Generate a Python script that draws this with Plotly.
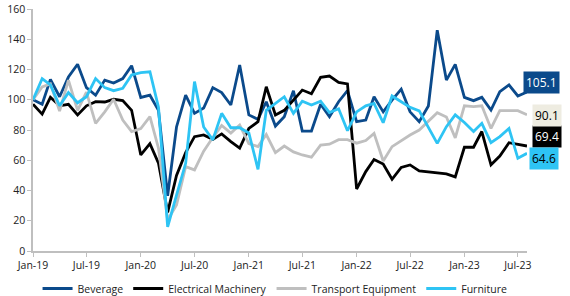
import pandas as pd
import plotly.graph_objects as go

months = pd.date_range("2019-01-01", "2023-08-01", freq="MS")

beverage = [100, 97, 113.5, 102, 115, 123.5, 108, 103, 113, 111, 114, 122.5,
            101.5, 103, 93, 36.5, 82, 103, 91, 94.5, 108, 104.7, 96.5, 123,
            90, 87, 98.7, 82.6, 88.8, 106, 79.3, 79.3, 97, 88.8, 98.7, 106,
            85.5, 86.6, 102, 92, 99.8, 107, 92, 85.5, 95.9, 146, 113, 123.4,
            101.6, 99.4, 101.6, 93.2, 105.3, 109.8, 102.5, 105.1]
electrical = [97, 90.5, 101.6, 96, 97, 90, 96, 98.7, 98.5, 100.3, 99.4, 93,
              63.5, 71, 58, 25.5, 50, 65, 75.6, 76.7, 73.8, 77.4, 72.3, 68,
              81, 85.5, 108.6, 90, 93, 99.8, 106.4, 104, 114.8, 115.7, 111.5, 110.5,
              41, 52.5, 60.5, 57.5, 47.4, 55.3, 56.9, 53, 52.4, 51.8, 51, 49,
              68.6, 68.6, 79, 57, 62.8, 71.6, 70.7, 69.4]
transport = [100, 108.5, 110.5, 92.5, 113, 93, 105, 84.4, 92, 100.3, 86.6, 79,
             81, 88.8, 68, 20.5, 30.4, 55.8, 53.6, 66, 75, 83, 78, 83.3,
             71, 69, 77, 65, 69.4, 65.5, 63.5, 62, 70, 70.6, 73.6, 73.6,
             71.3, 73, 77.8, 59.5, 69, 73, 76.7, 80, 85.5, 91.4, 88.6, 74.8,
             96, 95.4, 96, 81, 92.8, 93, 92.8, 90.1]
furniture = [100, 114, 109.8, 96, 104.7, 98, 102, 114, 108, 106, 107.6, 116.4,
             118, 118.5, 95, 16, 37, 58, 112, 82, 73.5, 91, 81.5, 81.5,
             78, 54, 93, 97.6, 102, 91, 99, 96.5, 99, 91.5, 94, 79.5,
             92, 96, 97.6, 84.8, 102.5, 98.7, 95, 92.6, 81.5, 71.2, 82.2, 90,
             85, 79, 84.4, 71.6, 75.6, 81, 61.3, 64.6]

series = [
    ("Beverage", beverage, "#0B4A8B"),
    ("Electrical Machinery", electrical, "#000000"),
    ("Transport Equipment", transport, "#BFBFBF"),
    ("Furniture", furniture, "#2EC4F4"),
]
# end-of-line label style per series: background, font colour, x shift, y shift
end_style = {
    "Beverage": ("#0B4A8B", "white", -4, 10),
    "Electrical Machinery": ("#000000", "white", 5, 10),
    "Transport Equipment": ("#EEECE1", "black", 5, -1),
    "Furniture": ("#2EC4F4", "black", 2, -5),
}

fig = go.Figure()
for name, vals, col in series:
    fig.add_trace(go.Scatter(x=months, y=vals, name=name, mode="lines",
                             line=dict(color=col, width=2.8)))

for name, vals, col in series:
    bg, fc, xs, ys = end_style[name]
    fig.add_annotation(x=months[-1], y=vals[-1], text=f"{vals[-1]:.1f}", showarrow=False,
                       xanchor="left", yanchor="middle", xshift=xs, yshift=ys,
                       bgcolor=bg, font=dict(color=fc, size=12), borderpad=2)

fig.update_layout(
    width=570, height=296,
    margin=dict(l=33, r=43, t=9, b=45, autoexpand=False),
    paper_bgcolor="white", plot_bgcolor="white",
    font=dict(family="Open Sans, Lato, sans-serif", size=10.5, color="#222"),
    showlegend=True,
    legend=dict(orientation="h", x=0.49, xanchor="center", y=-0.155, yanchor="middle",
                font=dict(size=10.5), itemwidth=30, tracegroupgap=0),
)
fig.update_xaxes(
    type="date", range=[months[0], months[-1]], dtick="M6", tick0="2019-01-01",
    tickformat="%b-%y", showgrid=False, showline=True, linecolor="#BFBFBF",
    linewidth=1.5, ticks="outside", ticklen=4, tickcolor="#BFBFBF", zeroline=False,
)
fig.update_yaxes(
    range=[0, 160], dtick=20, showgrid=False, showline=True, linecolor="#BFBFBF",
    linewidth=1.5, ticks="outside", ticklen=4, tickcolor="#BFBFBF", zeroline=False,
)

fig.write_html("out.html", config={"displayModeBar": False},
               post_script="document.body.style.margin='0';")
